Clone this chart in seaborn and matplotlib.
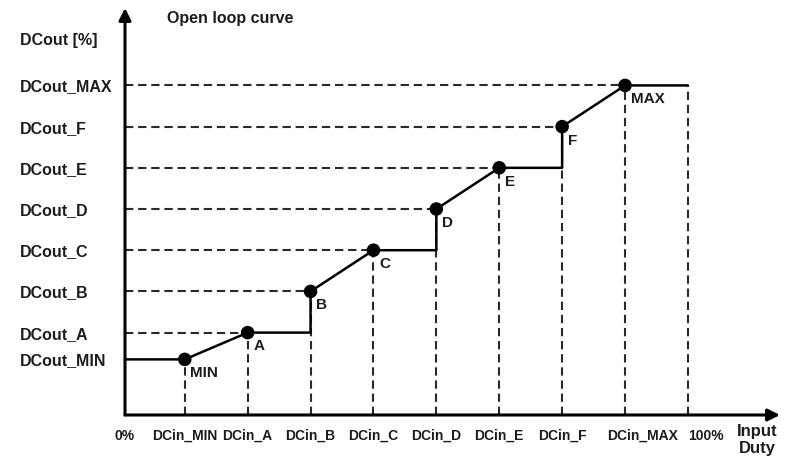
import numpy as np
import pandas as pd
import matplotlib
matplotlib.use("Agg")
import matplotlib.pyplot as plt
from matplotlib.transforms import ScaledTranslation
import seaborn as sns

# ---- data ----
point_names = ['MIN', 'A', 'B', 'C', 'D', 'E', 'F', 'MAX']
dc_in = [1, 2, 3, 4, 5, 6, 7, 8]
dc_out = [1.35, 2, 3, 4, 5, 6, 7, 8]
full_duty = 9
x_origin = 0.05
x_labels = ['0%', 'DCin_MIN', 'DCin_A', 'DCin_B', 'DCin_C', 'DCin_D',
            'DCin_E', 'DCin_F', 'DCin_MAX', '100%']
y_labels = ['DCout_MIN', 'DCout_A', 'DCout_B', 'DCout_C', 'DCout_D',
            'DCout_E', 'DCout_F', 'DCout_MAX']

sns.set_style("white")
plt.rcParams['font.family'] = ['Liberation Sans', 'DejaVu Sans']
plt.rcParams['font.weight'] = 'bold'
txt = '#1c1c1c'

# open loop curve: slope between pairs, step up between pairs
cx = [x_origin]
cy = [dc_out[0]]
for i, (x, y) in enumerate(zip(dc_in, dc_out)):
    cx.append(x)
    cy.append(y)
    if i % 2 == 1 and i < len(dc_in) - 1:
        cx.append(dc_in[i + 1])
        cy.append(y)
cx.append(full_duty)
cy.append(dc_out[-1])
curve = pd.DataFrame({'x': cx, 'y': cy})
pts = pd.DataFrame({'name': point_names, 'x': dc_in, 'y': dc_out})

fig = plt.figure(figsize=(7.89, 4.61), dpi=100)
ax = fig.add_axes([125 / 789, 46 / 461, 655 / 789, 407 / 461])
xmax = x_origin + 655 / 62.9
ymax = 409 / 41.4
ax.set_xlim(x_origin, xmax)
ax.set_ylim(0, ymax)

dash = (0, (4, 2.3))
ax.hlines(dc_out[1:], x_origin, dc_in[1:], colors='#2a2a2a', lw=1.5, linestyles=dash)
ax.vlines(dc_in, 0, dc_out, colors='#2a2a2a', lw=1.5, linestyles=dash)
ax.vlines(full_duty, 0, dc_out[-1], colors='#2a2a2a', lw=1.5, linestyles=dash)

sns.lineplot(data=curve, x='x', y='y', sort=False, estimator=None,
             color='black', lw=1.8, ax=ax, zorder=4)
sns.scatterplot(data=pts, x='x', y='y', s=95, color='black',
                edgecolor='none', ax=ax, zorder=5)

for n, x, y in zip(point_names, dc_in, dc_out):
    ax.annotate(n, (x, y), xytext=(4, -10), textcoords='offset points',
                ha='left', va='center', fontsize=11, fontweight='bold', color=txt)

# axes with arrows
for s in ax.spines.values():
    s.set_visible(False)
arrow = dict(arrowstyle='-|>', lw=2.2, color='black', mutation_scale=18,
             shrinkA=0, shrinkB=0)
ax.annotate('', xy=(xmax, 0), xytext=(x_origin, 0), arrowprops=arrow,
            annotation_clip=False, zorder=6)
ax.annotate('', xy=(x_origin, ymax), xytext=(x_origin, 0), arrowprops=arrow,
            annotation_clip=False, zorder=6)

ax.set_xticks([x_origin] + dc_in + [full_duty])
ax.set_xticklabels(x_labels, fontsize=10, fontweight='bold', color=txt)
ax.set_yticks(dc_out)
ax.set_yticklabels(y_labels, fontsize=11.5, fontweight='bold', color=txt)
ax.tick_params(axis='x', length=0, pad=10)
ax.tick_params(axis='y', length=0, pad=75.6)
for lab in ax.get_yticklabels():
    lab.set_horizontalalignment('left')
xt = ax.get_xticklabels()
xt[-1].set_horizontalalignment('left')
xt[-2].set_transform(xt[-2].get_transform() + ScaledTranslation(0.18, 0, fig.dpi_scale_trans))
ax.set_xlabel('')
ax.set_ylabel('')

fig.text(167 / 789, 1 - 19 / 461, 'Open loop curve', ha='left', va='center',
         fontsize=11.5, fontweight='bold', color=txt)
fig.text(20 / 789, 1 - 40 / 461, 'DCout [%]', ha='left', va='center',
         fontsize=11.5, fontweight='bold', color=txt)
fig.text(757 / 789, 1 - 440 / 461, 'Input\nDuty', ha='center', va='center',
         fontsize=12, fontweight='bold', color=txt, linespacing=1.2)

fig.savefig('out.png', dpi=100)
